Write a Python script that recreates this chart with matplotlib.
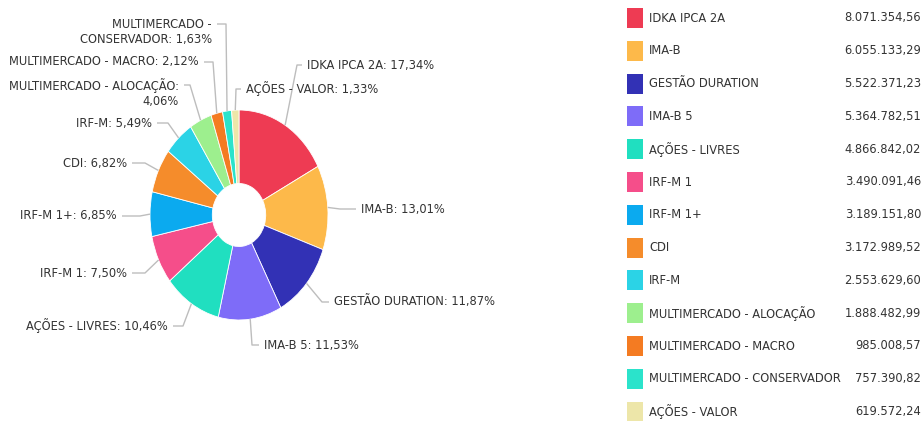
import matplotlib
matplotlib.use("Agg")
import matplotlib.pyplot as plt
from matplotlib.patches import Rectangle
import numpy as np

names = ["IDKA IPCA 2A", "IMA-B", "GESTÃO DURATION", "IMA-B 5", "AÇÕES - LIVRES",
         "IRF-M 1", "IRF-M 1+", "CDI", "IRF-M", "MULTIMERCADO - ALOCAÇÃO",
         "MULTIMERCADO - MACRO", "MULTIMERCADO - CONSERVADOR", "AÇÕES - VALOR"]
values = [8071354.56, 6055133.29, 5522371.23, 5364782.51, 4866842.02,
          3490091.46, 3189151.80, 3172989.52, 2553629.60, 1888482.99,
          985008.57, 757390.82, 619572.24]
colors = ["#EE3B53", "#FDB94A", "#3231B5", "#7E6CF8", "#20DFC0",
          "#F54E8A", "#0BAAEF", "#F58C2B", "#2BD3E6", "#9DEF8E",
          "#F47B22", "#2BE3CB", "#EDE6A9"]

# label layout in pixels: text_x, text_y, ha, elbow_x, connector_y
layout = [
    (307, 65, 'left', 297, 65),
    (361, 209, 'left', 340, 209),
    (334, 302, 'left', 322, 302),
    (264, 345, 'left', 252, 345),
    (168, 326, 'right', 183, 326),
    (127, 273, 'right', 145, 273),
    (117, 216, 'right', 140, 216),
    (127, 163, 'right', 145, 163),
    (152, 123, 'right', 168, 123),
    (179, 93, 'right', 190, 85),
    (199, 62, 'right', 213, 62),
    (212, 32, 'right', 226, 24),
    (246, 89, 'left', 236, 89),
]
wraps = {"MULTIMERCADO - ALOCAÇÃO": ("ALOCAÇÃO: ", "ALOCAÇÃO:\n"),
         "MULTIMERCADO - CONSERVADOR": ("MULTIMERCADO - ", "MULTIMERCADO -\n")}

W, H = 922, 421
fig = plt.figure(figsize=(W / 100, H / 100), dpi=100)
fig.patch.set_facecolor("white")

# pie axes (elliptical)
cx, cy, rx, ry = 239, 215, 89, 105
ax = fig.add_axes([(cx - rx) / W, (H - cy - ry) / H, 2 * rx / W, 2 * ry / H])
wedges, _ = ax.pie(values, colors=colors, startangle=90, counterclock=False,
                   radius=1.0,
                   wedgeprops=dict(width=0.70, edgecolor="white", linewidth=0.6))
ax.set_aspect("auto")
ax.set_xlim(-1, 1)
ax.set_ylim(-1, 1)
ax.axis("off")

ov = fig.add_axes([0, 0, 1, 1], zorder=5)
ov.set_xlim(0, W)
ov.set_ylim(H, 0)
ov.axis("off")
ov.patch.set_alpha(0)

def br(v, dec=2):
    s = f"{v:,.{dec}f}"
    return s.replace(",", "X").replace(".", ",").replace("X", ".")

total = sum(values)
txtc = "#333333"
fs = 8.3
for i, (w, name, v) in enumerate(zip(wedges, names, values)):
    mid = np.deg2rad((w.theta1 + w.theta2) / 2)
    p = ax.transData.transform((np.cos(mid), np.sin(mid)))
    px, py = ov.transData.inverted().transform(p)
    tx, ty, ha, ex, cyy = layout[i]
    label = f"{name}: {br(100 * v / total)}%"
    if name in wraps:
        a, b = wraps[name]
        label = label.replace(a, b)
    endx = tx - 5 if ha == 'left' else tx + 5
    ov.plot([px, ex, endx], [py, cyy, cyy], color="#BDBDBD", lw=1.0,
            solid_capstyle="butt")
    ov.text(tx, ty, label, ha=ha, va="center", fontsize=fs, color=txtc,
            multialignment=ha, linespacing=1.25)

# legend table
y0, dy = 18, 32.8
for i, (name, v, c) in enumerate(zip(names, values, colors)):
    y = y0 + i * dy
    ov.add_patch(Rectangle((627, y - 10), 16, 20, facecolor=c, edgecolor="none"))
    ov.text(649, y, name, ha="left", va="center", fontsize=fs, color=txtc)
    ov.text(921, y, br(v), ha="right", va="center", fontsize=fs, color=txtc)

fig.savefig("out.png", dpi=100, facecolor="white")
